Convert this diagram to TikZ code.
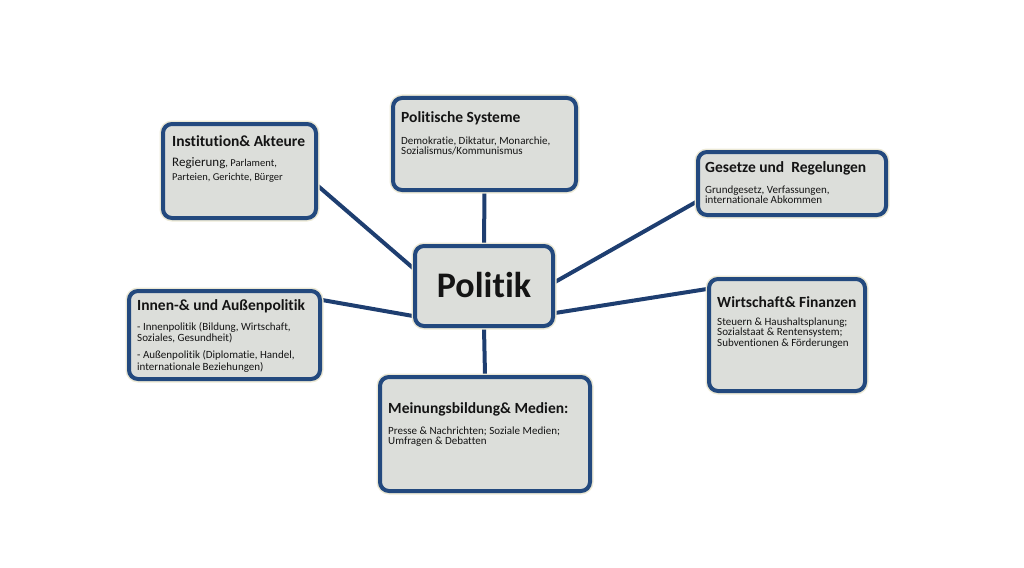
\documentclass[tikz,border=0pt]{standalone}
\usepackage{fontspec}
\setmainfont[Ligatures=NoCommon]{Carlito}
\usetikzlibrary{backgrounds}
\definecolor{boxblue}{RGB}{35,73,126}
\definecolor{linkblue}{RGB}{30,62,112}
\definecolor{boxfill}{RGB}{220,222,218}
\definecolor{glow}{RGB}{236,233,214}
\definecolor{txt}{RGB}{20,20,20}
\newcommand{\mlines}[1]{\begin{tabular}[t]{@{}l@{}}#1\end{tabular}}
\tikzset{
 box/.style={draw=boxblue, line width=4pt, fill=boxfill, rounded corners=9pt, inner sep=0pt,
   preaction={draw=glow, line width=7pt}},
 link/.style={draw=linkblue, line width=4pt},
 ttl/.style={anchor=base west, inner sep=0pt, font=\bfseries\fontsize{15.5}{17}\selectfont, text=txt},
 bdy/.style={anchor=base west, inner sep=0pt, font=\fontsize{11}{10.6}\selectfont, text=txt},
 big/.style={anchor=base, inner sep=0pt, font=\bfseries\fontsize{36}{40}\selectfont, text=txt},
}
\begin{document}
\begin{tikzpicture}[x=1pt,y=-1pt]
\useasboundingbox (0,0) rectangle (1024,567);
% boxes
\node[box, minimum width=138pt, minimum height=80pt] (politik) at (484,286) {};
\node[box, minimum width=183pt, minimum height=92pt] (systeme) at (484.5,144) {};
\node[box, minimum width=153pt, minimum height=94pt] (inst) at (239.5,171) {};
\node[box, minimum width=188pt, minimum height=63pt] (gesetze) at (792,183.5) {};
\node[box, minimum width=191pt, minimum height=88pt] (innen) at (224.5,335) {};
\node[box, minimum width=156pt, minimum height=112pt] (wirt) at (787,335) {};
\node[box, minimum width=210pt, minimum height=114pt] (mein) at (485,434) {};
% connectors
\begin{scope}[on background layer]
\draw[link] (systeme.south) -- (politik.north);
\draw[link] (politik.south) -- (mein.north);
\draw[link] ([yshift=-15pt]inst.east) -- ([yshift=18pt]politik.west);
\draw[link] ([yshift=-18.5pt]gesetze.west) -- ([yshift=4pt]politik.east);
\draw[link] ([yshift=35pt]innen.east) -- ([yshift=-30pt]politik.west);
\draw[link] ([yshift=46pt]wirt.west) -- ([yshift=-27pt]politik.east);
\end{scope}
% texts
\node[big] (politiktxt) at (484,297) {Politik};
\node[ttl] (systemet) at (401,122) {Politische Systeme};
\node[bdy] (systemeb) at (401,144) {\mlines{Demokratie, Diktatur, Monarchie,\\Sozialismus/Kommunismus}};
\node[ttl] (instt) at (172,146.5) {Institution\& Akteure};
\node[bdy, font=\fontsize{10.5}{14}\selectfont] (instb) at (172,166.5) {\mlines{{\fontsize{13}{14}\selectfont Regierung}, Parlament,\\Parteien, Gerichte, Bürger}};
\node[ttl] (gesetzet) at (705,172) {Gesetze und\ \ Regelungen};
\node[bdy] (gesetzeb) at (705,193) {\mlines{Grundgesetz, Verfassungen,\\internationale Abkommen}};
\node[ttl] (innent) at (137,310) {Innen-\& und Außenpolitik};
\node[bdy, font=\fontsize{11}{11.7}\selectfont] (innenb) at (137,330) {\mlines{- Innenpolitik (Bildung, Wirtschaft,\\Soziales, Gesundheit)\\[5pt]- Außenpolitik (Diplomatie, Handel,\\internationale Beziehungen)}};
\node[ttl] (wirtt) at (717,307) {Wirtschaft\& Finanzen};
\node[bdy, font=\fontsize{11}{10.7}\selectfont] (wirtb) at (717,325) {\mlines{Steuern \& Haushaltsplanung;\\Sozialstaat \& Rentensystem;\\Subventionen \& Förderungen}};
\node[ttl] (meint) at (388,413) {Meinungsbildung\& Medien:};
\node[bdy] (meinb) at (388,434) {\mlines{Presse \& Nachrichten; Soziale Medien;\\Umfragen \& Debatten}};
\end{tikzpicture}
\end{document}
